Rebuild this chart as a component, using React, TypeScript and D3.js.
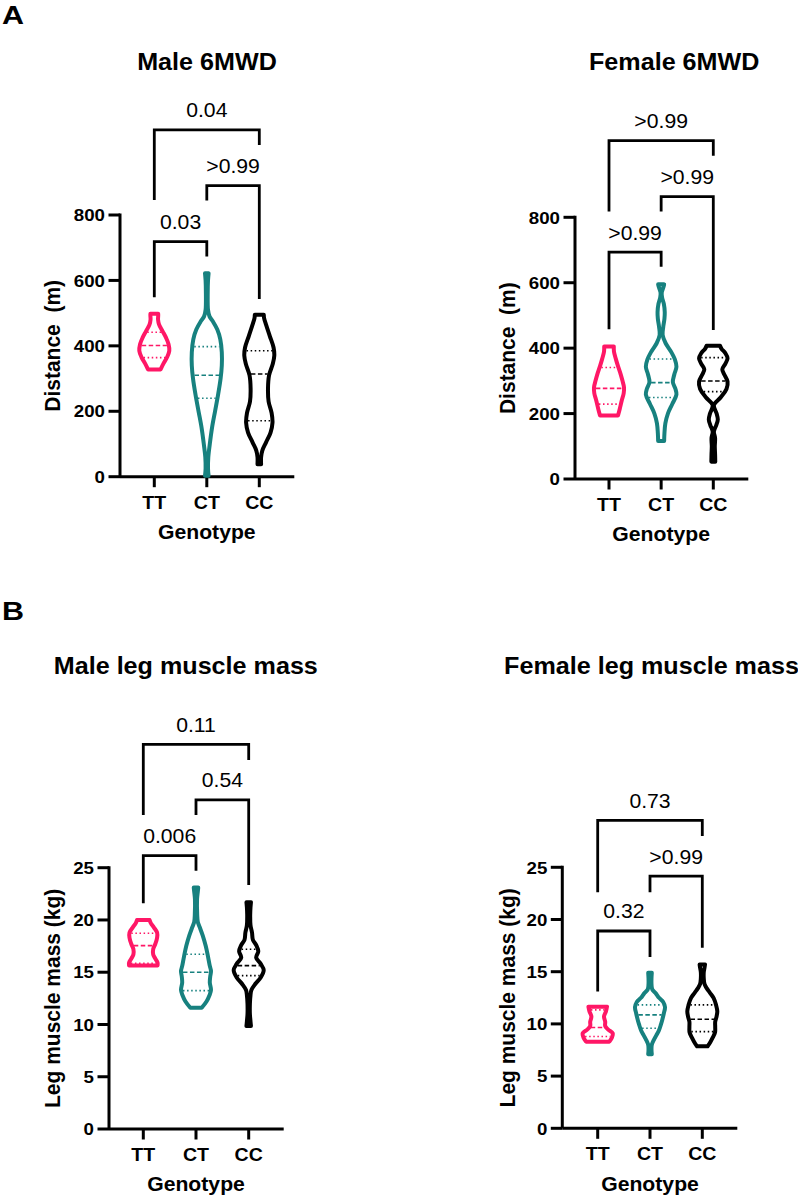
import React from "react";
import * as d3 from "d3";

// ---------- data ----------
const genotypes = ["TT", "CT", "CC"];
const walkTicks = [0, 200, 400, 600, 800];
const legTicks = [0, 5, 10, 15, 20, 25];

// violin profiles: [value, relative half-width]
const maleWalkTT: [number, number][] = [[328,0.42],[345,0.6],[365,0.85],[385,1.0],[405,0.95],[425,0.78],[445,0.55],[465,0.32],[480,0.25],[492,0.26],[498,0.26]];
const maleWalkCT: [number, number][] = [[3,0.12],[25,0.08],[60,0.1],[100,0.2],[150,0.35],[200,0.55],[250,0.75],[300,0.92],[340,1.0],[380,1.0],[420,0.9],[450,0.7],[475,0.4],[490,0.18],[510,0.08],[560,0.06],[600,0.08],[622,0.12]];
const maleWalkCC: [number, number][] = [[38,0.12],[60,0.12],[80,0.2],[105,0.45],[135,0.75],[165,0.88],[195,0.82],[230,0.62],[270,0.58],[310,0.65],[345,0.9],[370,1.0],[395,0.95],[430,0.7],[465,0.45],[485,0.32],[495,0.3]];
const maleWalkQuart = [[364, 401, 441.6], [240, 310, 397.5], [171, 314, 385]];

const femaleWalkTT: [number, number][] = [[194,0.6],[215,0.72],[240,0.85],[262,0.98],[280,1.0],[300,0.9],[320,0.78],[345,0.6],[368,0.45],[390,0.33],[405,0.32]];
const femaleWalkCT: [number, number][] = [[116,0.2],[140,0.22],[170,0.28],[200,0.45],[230,0.75],[258,1.02],[276,0.95],[296,0.78],[320,0.88],[343,1.02],[365,0.92],[390,0.65],[415,0.3],[440,0.1],[465,0.14],[490,0.22],[510,0.24],[535,0.18],[555,0.06],[570,0.04],[585,0.14],[595,0.2]];
const femaleWalkCC: [number, number][] = [[53,0.13],[75,0.12],[100,0.1],[125,0.12],[145,0.04],[165,0.2],[182,0.3],[200,0.22],[226,0.04],[250,0.5],[275,0.88],[298,0.95],[318,0.75],[335,0.6],[352,0.8],[369,0.95],[385,0.8],[398,0.55],[407,0.45]];
const femaleWalkQuart = [[229, 277, 341], [249, 294.6, 367], [267, 299.7, 371]];

const maleLegTT: [number, number][] = [[15.65,0.95],[15.9,0.95],[16.3,0.8],[16.7,0.66],[17.2,0.66],[17.7,0.8],[18.3,0.92],[18.8,0.92],[19.3,0.7],[19.7,0.5],[20.0,0.42]];
const maleLegCT: [number, number][] = [[11.6,0.38],[12.2,0.7],[12.8,0.9],[13.3,1.0],[14.0,0.92],[14.6,0.95],[15.1,1.0],[15.6,0.92],[16.5,0.8],[17.5,0.65],[18.5,0.45],[19.3,0.25],[19.8,0.12],[20.5,0.08],[22,0.07],[22.7,0.12],[23.1,0.15]];
const maleLegCC: [number, number][] = [[9.85,0.15],[10.3,0.12],[11,0.08],[12,0.08],[12.8,0.12],[13.3,0.18],[13.9,0.45],[14.5,0.8],[15.2,1.0],[15.8,0.8],[16.4,0.5],[17.0,0.64],[17.6,0.5],[18.1,0.28],[18.8,0.22],[19.5,0.12],[20.5,0.1],[21.2,0.12],[21.7,0.15]];
const maleLegQuart = [[15.86, 17.54, 18.73], [13.24, 15.0, 16.72], [14.67, 15.63, 17.2]];

const femaleLegTT: [number, number][] = [[8.3,0.78],[8.7,0.95],[9.1,1.0],[9.45,0.7],[9.8,0.5],[10.2,0.5],[10.7,0.42],[11.2,0.55],[11.65,0.62]];
const femaleLegCT: [number, number][] = [[7.1,0.12],[7.5,0.1],[8.0,0.12],[8.45,0.25],[8.9,0.42],[9.4,0.6],[9.9,0.72],[10.4,0.82],[11.0,0.92],[11.6,1.0],[12.1,0.88],[12.5,0.6],[12.9,0.4],[13.3,0.15],[13.8,0.1],[14.4,0.1],[14.9,0.12]];
const femaleLegCC: [number, number][] = [[7.85,0.35],[8.3,0.55],[8.7,0.7],[9.2,0.85],[9.7,0.86],[10.2,0.86],[10.7,0.95],[11.2,1.0],[11.8,0.92],[12.5,0.75],[13.0,0.5],[13.4,0.3],[13.8,0.15],[14.3,0.1],[15,0.1],[15.4,0.15],[15.7,0.18]];
const femaleLegQuart = [[8.79, 9.65, 11.34], [9.59, 10.86, 11.82], [9.26, 10.45, 11.82]];

// brackets: [from, to, label, level, leftEnd, rightEnd] in data units
type Br = [number, number, string, number, number, number];
const maleWalkBr: Br[] = [[0, 1, "0.03", 718.7, 548.6, 672.8], [1, 2, ">0.99", 889.9, 844, 543.4], [0, 2, "0.04", 1060, 846, 1014]];
const femaleWalkBr: Br[] = [[0, 1, ">0.99", 693.3, 457.8, 649.2], [1, 2, ">0.99", 863.3, 817.4, 455.7], [0, 2, ">0.99", 1034.6, 817.4, 987.8]];
const maleLegBr: Br[] = [[0, 1, "0.006", 26.15, 21.6, 24.7], [1, 2, "0.54", 31.48, 30.05, 23.35], [0, 2, "0.11", 36.8, 30.05, 35.3]];
const femaleLegBr: Br[] = [[0, 1, "0.32", 18.9, 13.1, 16.4], [1, 2, ">0.99", 24.15, 22.6, 17.3], [0, 2, "0.73", 29.5, 22.6, 28.0]];

// ---------- style / layout ----------
const COLORS = ["#FF1766", "#17817F", "#000000"];
const FONT = "'Liberation Sans', Arial, Helvetica, sans-serif";
const HALF = 15;

const panels = [
  { letter: "A", letterY: 24.3, title: "Male 6MWD", titleX: 207, titleY: 69.6, axisX: 120, y0: 476.7, yTop: 215, xFirst: 154.3, xLast: 259.3, ticks: walkTicks, max: 800, yLabel: "Distance  (m)", yLabelOff: 60, profiles: [maleWalkTT, maleWalkCT, maleWalkCC], quart: maleWalkQuart, br: maleWalkBr },
  { letter: "", letterY: 0, title: "Female 6MWD", titleX: 674.2, titleY: 69.6, axisX: 575, y0: 479, yTop: 217.3, xFirst: 609, xLast: 713.3, ticks: walkTicks, max: 800, yLabel: "Distance  (m)", yLabelOff: 60, profiles: [femaleWalkTT, femaleWalkCT, femaleWalkCC], quart: femaleWalkQuart, br: femaleWalkBr },
  { letter: "B", letterY: 619.5, title: "Male leg muscle mass", titleX: 185.8, titleY: 674, axisX: 109, y0: 1129, yTop: 867.7, xFirst: 143.3, xLast: 248.7, ticks: legTicks, max: 25, yLabel: "Leg muscle mass (kg)", yLabelOff: 49, profiles: [maleLegTT, maleLegCT, maleLegCC], quart: maleLegQuart, br: maleLegBr },
  { letter: "", letterY: 0, title: "Female leg muscle mass", titleX: 651.5, titleY: 674, axisX: 562.3, y0: 1128.3, yTop: 867.3, xFirst: 597.7, xLast: 702.3, ticks: legTicks, max: 25, yLabel: "Leg muscle mass (kg)", yLabelOff: 47.5, profiles: [femaleLegTT, femaleLegCT, femaleLegCC], quart: femaleLegQuart, br: femaleLegBr },
];

function Txt({ x, y, size, bold = false, anchor = "middle", sx = 1.07, rot = 0, children }: any) {
  return (
    <text
      transform={`translate(${x},${y}) scale(${sx},1)${rot ? ` rotate(${rot})` : ""}`}
      fontSize={size}
      fontWeight={bold ? 700 : 400}
      textAnchor={anchor}
      fontFamily={FONT}
      fill="#000"
      style={{ whiteSpace: "pre" }}
    >
      {children}
    </text>
  );
}

function Panel({ p }: any) {
  const y = d3.scaleLinear().domain([0, p.max]).range([p.y0, p.yTop]);
  const x = d3.scalePoint<string>().domain(genotypes).range([p.xFirst, p.xLast]);
  const w = d3.scaleLinear().domain([0, 1]).range([0, HALF]);
  const xEnd = p.xLast + 35;
  const mid = (p.y0 + p.yTop) / 2;
  return (
    <g>
      {p.letter && (
        <Txt x={2} y={p.letterY} size={26.5} bold anchor="start" sx={1.15}>{p.letter}</Txt>
      )}
      <Txt x={p.titleX} y={p.titleY} size={23.5} bold>{p.title}</Txt>
      {/* y axis */}
      <line x1={p.axisX} x2={p.axisX} y1={y(p.max) - 1.5} y2={p.y0} stroke="#000" strokeWidth={3} />
      {p.ticks.map((t: number) => (
        <g key={t}>
          <line x1={p.axisX - 11.5} x2={p.axisX} y1={y(t)} y2={y(t)} stroke="#000" strokeWidth={3} />
          <Txt x={p.axisX - 15} y={y(t) + 6.2} size={17} bold anchor="end" sx={1.1}>{t}</Txt>
        </g>
      ))}
      {/* x axis */}
      <line x1={p.axisX} x2={xEnd} y1={p.y0} y2={p.y0} stroke="#000" strokeWidth={3} />
      {genotypes.map((g) => (
        <g key={g}>
          <line x1={x(g)} x2={x(g)} y1={p.y0} y2={p.y0 + 10.5} stroke="#000" strokeWidth={3} />
          <Txt x={x(g)} y={p.y0 + 31.8} size={19} bold sx={1.03}>{g}</Txt>
        </g>
      ))}
      <Txt x={(p.xFirst + p.xLast) / 2} y={p.y0 + 62.3} size={20} bold sx={1.06}>Genotype</Txt>
      <Txt x={p.axisX - p.yLabelOff} y={mid} size={21} bold sx={1.05} rot={-90}>{p.yLabel}</Txt>
      {/* violins */}
      {p.profiles.map((prof: [number, number][], i: number) => {
        const cx = x(genotypes[i]) as number;
        const area = d3
          .area<[number, number]>()
          .curve(d3.curveCatmullRom.alpha(0.5))
          .y((d) => y(d[0]))
          .x0((d) => cx - w(d[1]))
          .x1((d) => cx + w(d[1]));
        const hw = d3.scaleLinear().domain(prof.map((d) => d[0])).range(prof.map((d) => d[1])).clamp(true);
        const q = p.quart[i];
        return (
          <g key={i}>
            {q.map((v: number, j: number) => {
              const half = Math.max(w(hw(v)) - 1.8, 1);
              return (
                <line
                  key={j}
                  x1={cx - half}
                  x2={cx + half}
                  y1={y(v)}
                  y2={y(v)}
                  stroke={COLORS[i]}
                  strokeWidth={1.6}
                  strokeDasharray={j === 1 ? "4.5,2.5" : "1.5,2.6"}
                />
              );
            })}
            <path d={area(prof) || ""} fill="none" stroke={COLORS[i]} strokeWidth={4} strokeLinejoin="round" />
          </g>
        );
      })}
      {/* brackets */}
      {p.br.map((b: Br, k: number) => {
        const x1 = x(genotypes[b[0]]) as number;
        const x2 = x(genotypes[b[1]]) as number;
        const yl = y(b[3]);
        return (
          <g key={k}>
            <path
              d={`M${x1},${y(b[4])}V${yl}H${x2}V${y(b[5])}`}
              fill="none"
              stroke="#000"
              strokeWidth={2.8}
              strokeLinejoin="miter"
            />
            <Txt x={(x1 + x2) / 2} y={yl - 12.5} size={20} sx={1.06}>{b[2]}</Txt>
          </g>
        );
      })}
    </g>
  );
}

export default function App() {
  return (
    <svg
      width={798}
      height={1200}
      viewBox="0 0 798 1200"
      style={{ position: "absolute", left: 0, top: 0, display: "block", background: "#fff" }}
    >
      <rect width={798} height={1200} fill="#fff" />
      {panels.map((p, i) => (
        <Panel key={i} p={p} />
      ))}
    </svg>
  );
}
